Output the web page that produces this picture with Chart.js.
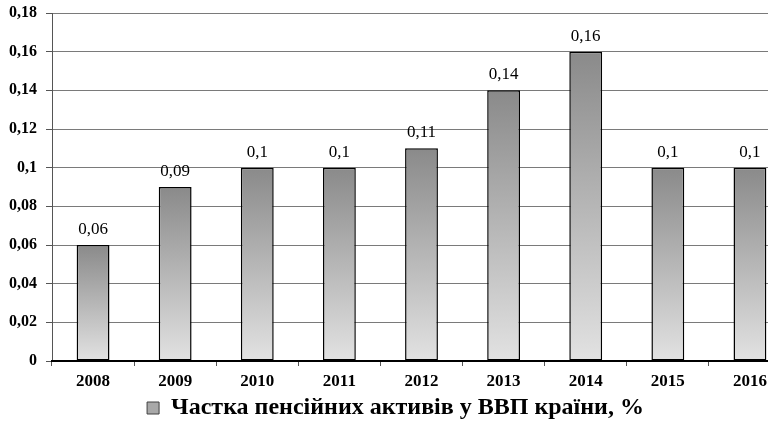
<!DOCTYPE html>
<html>
<head>
<meta charset="utf-8">
<script src="https://cdn.jsdelivr.net/npm/chart.js@4"></script>
<style>
  html, body { margin: 0; padding: 0; background: #fff; overflow: hidden; }
  #wrap { width: 768px; height: 430px; overflow: hidden; }
  #box { width: 791px; height: 430px; }
</style>
</head>
<body>
<div id="wrap"><div id="box"><canvas id="pensionChart"></canvas></div></div>
<script>
const years = ['2008', '2009', '2010', '2011', '2012', '2013', '2014', '2015', '2016'];
const shareValues = [0.06, 0.09, 0.1, 0.1, 0.11, 0.14, 0.16, 0.1, 0.1];
const seriesLabel = 'Частка пенсійних активів у ВВП країни, %';

const serif = '"Liberation Serif", "Times New Roman", serif';
const fmt = v => String(Math.round(v * 100) / 100).replace('.', ',');

// each bar gets its own gradient, dark on top, light at the base
const barFill = function (context) {
    const chart = context.chart;
    const y = chart.scales.y;
    if (!chart.chartArea || !y || context.raw == null) return '#aaa';
    const top = y.getPixelForValue(context.raw);
    const bottom = y.getPixelForValue(0);
    if (!isFinite(top) || !isFinite(bottom) || bottom - top < 1) return '#aaa';
    const g = chart.ctx.createLinearGradient(0, top, 0, bottom);
    g.addColorStop(0, '#8a8a8a');
    g.addColorStop(1, '#e2e2e2');
    return g;
};

const valueLabels = {
    id: 'valueLabels',
    afterDatasetsDraw(chart) {
        const ctx = chart.ctx;
        const meta = chart.getDatasetMeta(0);
        ctx.save();
        ctx.font = '17px ' + serif;
        ctx.fillStyle = '#000';
        ctx.textAlign = 'center';
        ctx.textBaseline = 'bottom';
        meta.data.forEach((bar, i) => {
            ctx.fillText(fmt(shareValues[i]), bar.x, bar.y - 7);
        });
        ctx.restore();
    }
};

new Chart(document.getElementById('pensionChart'), {
    type: 'bar',
    data: {
        labels: years,
        datasets: [{
            label: seriesLabel,
            data: shareValues,
            backgroundColor: barFill,
            borderColor: '#000',
            borderWidth: 1.5,
            borderSkipped: false,
            barPercentage: 0.4,
            categoryPercentage: 1
        }]
    },
    options: {
        responsive: true,
        maintainAspectRatio: false,
        animation: false,
        layout: { padding: { top: 0, right: 0, left: 0, bottom: 0 } },
        plugins: {
            legend: {
                position: 'bottom',
                labels: {
                    color: '#000',
                    font: { family: serif, size: 24, weight: 'bold' },
                    boxWidth: 12,
                    boxHeight: 12,
                    padding: 1,
                    generateLabels: () => [{
                        text: seriesLabel,
                        fillStyle: '#a8a8a8',
                        strokeStyle: '#404040',
                        lineWidth: 1,
                        datasetIndex: 0
                    }]
                }
            },
            tooltip: { enabled: false }
        },
        scales: {
            y: {
                min: 0,
                max: 0.18,
                afterFit: s => { s.width = 52; s.paddingTop = 13; s.paddingBottom = 0; },
                grid: { color: '#7a7a7a', lineWidth: 1, tickLength: 6, tickColor: '#555' },
                border: { color: '#555', width: 1 },
                ticks: {
                    stepSize: 0.02,
                    color: '#000',
                    padding: 9,
                    font: { family: serif, size: 16, weight: 'bold' },
                    callback: v => fmt(v)
                }
            },
            x: {
                afterFit: s => { s.height = 34; },
                grid: { drawOnChartArea: false, tickLength: 5, tickColor: '#555', offset: true },
                border: { color: '#000', width: 2 },
                ticks: {
                    color: '#000',
                    padding: 5,
                    font: { family: serif, size: 17, weight: 'bold' }
                }
            }
        }
    },
    plugins: [valueLabels]
});
</script>
</body>
</html>
